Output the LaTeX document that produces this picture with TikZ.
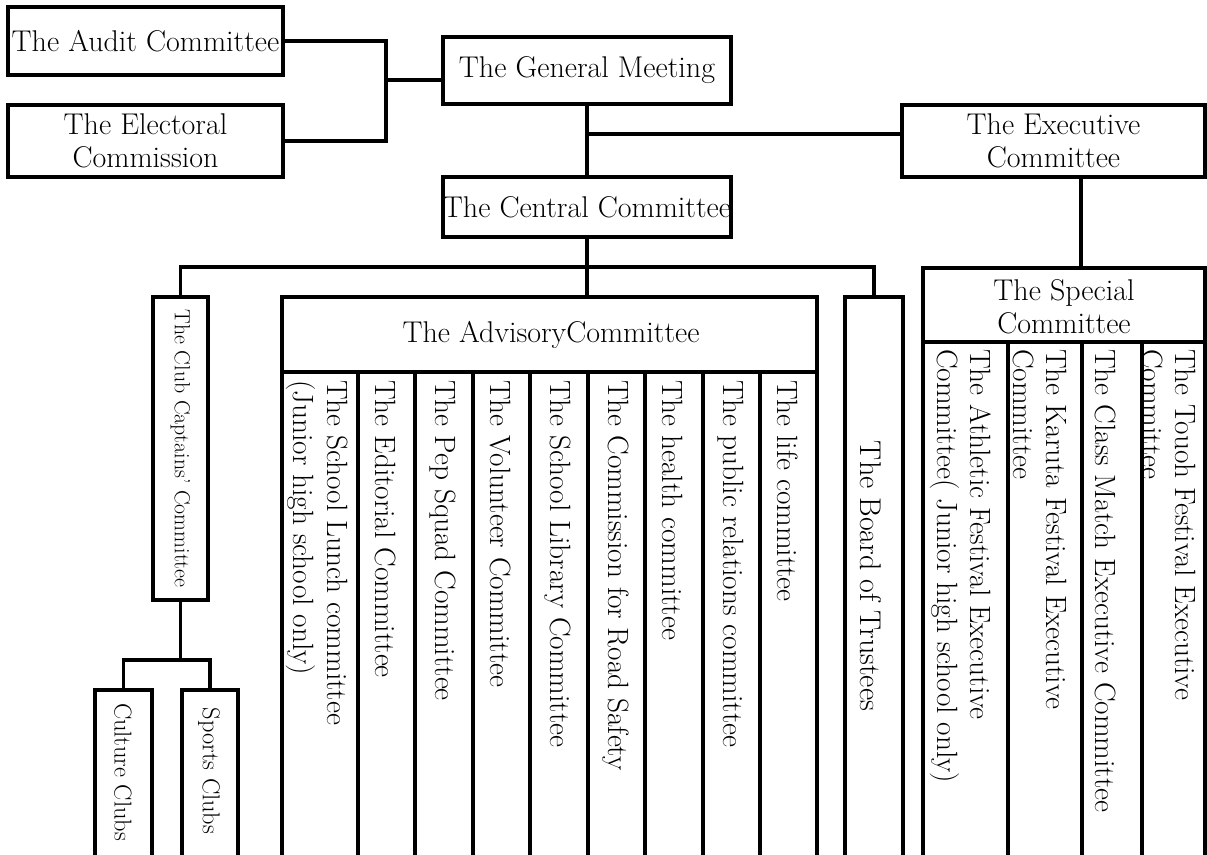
\documentclass[tikz,border=0pt]{standalone}
\usepackage{fontspec}
\begin{document}
\begin{tikzpicture}[x=0.75pt,y=-0.75pt,
  box/.style={draw, line width=2.8pt, rectangle, inner sep=0pt, align=center, font=\fontsize{22.5}{24.5}\selectfont},
  conn/.style={line width=2.8pt},
  lbl/.style={inner sep=0pt, align=center, font=\fontsize{22.5}{24.5}\selectfont},
  coltext/.style={rotate=-90, anchor=west, align=left, inner sep=0pt, font=\fontsize{22}{25}\selectfont},
  rottext/.style={rotate=-90, inner sep=0pt},
  ]
\useasboundingbox (0,0) rectangle (1207,854);

% upper boxes
\node[box, minimum width=206.25pt, minimum height=51pt] (audit) at (145.5,41) {The Audit Committee};
\node[box, minimum width=206.25pt, minimum height=54pt] (elect) at (145.5,141) {The Electoral\\Commission};
\node[box, minimum width=216pt, minimum height=50.25pt] (gm) at (587,70.5) {The General Meeting};
\node[box, minimum width=216pt, minimum height=45pt] (central) at (587,207) {The Central Committee};
\node[box, minimum width=227.25pt, minimum height=54pt] (exec) at (1053.5,141) {The Executive\\Committee};

% club branch
\node[box, minimum width=41.25pt, minimum height=227.25pt] (club) at (180.5,448.5) {};
\node[rottext, font=\fontsize{16.4}{19}\selectfont] (clubt) at (club.center) {The Club Captains’ Committee};
\node[box, minimum width=42.75pt, minimum height=125.25pt] (culture) at (123.5,773.5) {};
\node[rottext, font=\fontsize{18.3}{21}\selectfont] (culturet) at (123,772) {Culture Clubs};
\node[box, minimum width=42pt, minimum height=125.25pt] (sports) at (210,773.5) {};
\node[rottext, font=\fontsize{18.3}{21}\selectfont] (sportst) at (209,771) {Sports Clubs};

% board
\node[box, minimum width=43.5pt, minimum height=420pt] (board) at (874,577) {};
\node[rottext, font=\fontsize{22.5}{25}\selectfont] (boardt) at (871,576) {The Board of Trustees};

% advisory committee
\node[box, minimum width=401.25pt, minimum height=420pt] (adv) at (549.5,577) {};
\node[lbl] (advt) at (551,334.5) {The AdvisoryCommittee};
\draw[conn] (282,372) -- (817,372);
\foreach \x in {358,415,473,530,588,645,703,760} \draw[conn] (\x,372) -- (\x,857);
\node[coltext] (a1) at (317,380) {The School Lunch committee\\(Junior high school only)};
\node[coltext] (a2) at (385.5,380) {The Editorial Committee};
\node[coltext] (a3) at (443,380) {The Pep Squad Committee};
\node[coltext] (a4) at (500.5,380) {The Volunteer Committee};
\node[coltext] (a5) at (558,380) {The School Library Committee};
\node[coltext] (a6) at (615.5,380) {The Commission for Road Safety};
\node[coltext] (a7) at (673,380) {The health committee};
\node[coltext] (a8) at (730.5,380) {The public relations committee};
\node[coltext] (a9) at (787.5,380) {The life committee};

% special committee
\node[box, minimum width=211.5pt, minimum height=441.75pt] (special) at (1064,562.5) {};
\node[lbl] (spt) at (1064,306.5) {The Special\\Committee};
\draw[conn] (923,342) -- (1205,342);
\foreach \x in {1008,1082,1142} \draw[conn] (\x,342) -- (\x,857);
\node[coltext] (s1) at (961,349) {The Athletic Festival Executive\\Committee( Junior high school only)};
\node[coltext] (s2) at (1040,349) {The Karuta Festival Executive\\Committee};
\node[coltext] (s3) at (1106,349) {The Class Match Executive Committee};
\node[coltext] (s4) at (1169,349) {The Touoh Festival Executive\\Committee};

% connectors
\coordinate (jl) at (386,80);
\draw[conn] (audit.east) -| (jl) |- (elect.east);
\draw[conn] (jl) -- (jl -| gm.west);
\coordinate (je) at (587,134);
\draw[conn] (gm.south) -- (central.north);
\draw[conn] (je) -- (je -| exec.west);
\coordinate (es) at (1081,0);
\draw[conn] (es |- exec.south) -- (es |- special.north);
\coordinate (bus) at (587,267);
\draw[conn] (central.south) -- (central.south |- adv.north);
\draw[conn] (club.north) |- (bus) -| (board.north);
\coordinate (cj) at (180.5,660);
\draw[conn] (club.south) -- (cj);
\draw[conn] (culture.north) |- (cj) -| (sports.north);
\end{tikzpicture}
\end{document}
